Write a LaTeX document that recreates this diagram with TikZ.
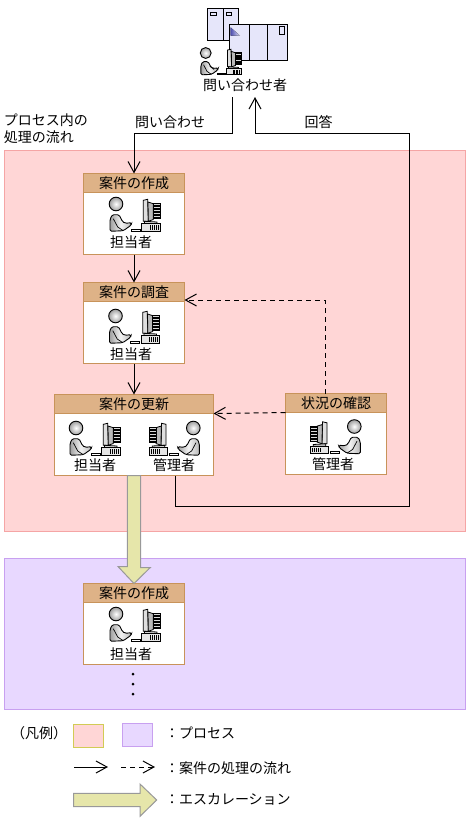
\documentclass[tikz,border=0pt]{standalone}
\usepackage{fontspec}
\usepackage{xcolor}
\usetikzlibrary{arrows.meta, positioning}
\newfontfamily\jpfont{Noto Sans CJK JP}
\definecolor{headfill}{HTML}{DEB287}
\definecolor{headline}{HTML}{C8935A}
\definecolor{pinkfill}{HTML}{FFD6D6}
\definecolor{pinkline}{HTML}{F5A5A5}
\definecolor{violetfill}{HTML}{E8D8FF}
\definecolor{violetline}{HTML}{C8A0F0}
\definecolor{escfill}{HTML}{E6E6AA}
\definecolor{escline}{HTML}{999999}
\definecolor{srvfill}{HTML}{E6E6FA}
\tikzset{
  operator/.pic={
    % monitor
    \draw[line width=.8pt,fill=gray!25] (27.3,-3.7) -- (31.7,-4.7) -- (32.3,17.3) -- (27.3,17.3) -- cycle;
    \draw[line width=.8pt,fill=gray!55] (32,-2) -- (37.3,-.3) -- (37.3,15.5) -- (32.3,17.3) -- cycle;
    \draw[line width=.8pt,fill=gray!30] (37.3,-.3) rectangle (44,14.7);
    \foreach \k in {1,2.5,...,14}
      \draw[line width=.7pt] (37.3,\k) -- (44,\k);
    % base
    \draw[line width=.8pt,fill=gray!35] (28.5,17.3) -- (41,18) -- (41,19.7) -- (28.5,19.7) -- cycle;
    \draw[line width=.8pt,fill=gray!20] (25.7,19.7) rectangle (44,27.3);
    \foreach \k in {34,36,...,42}
      \draw[line width=.7pt] (\k,21.3) -- (\k,25.7);
    % keyboard
    \draw[line width=.8pt,fill=white] (15,25) rectangle (24,27.3);
    % body and head
    \draw[line width=.9pt,rounded corners=1.5pt,left color=gray!75,right color=gray!55,middle color=gray!10]
      (-6,15.3) -- (-3.7,10.7) -- (3,10.7) -- (6.3,17.3) -- (9,19.3) -- (15.7,18.7) -- (15,21.3)
      -- (7.3,26.7) -- (-6,27.3) -- cycle;
    \draw[line width=.7pt] (-2.7,14.7) -- (1.7,23) -- (7.3,26.7);
    \draw[line width=.9pt,inner color=white,outer color=gray!75] (0,0) circle (6.8);
  }
}
\begin{document}
\begin{tikzpicture}[
      x=1pt,y=-1pt,
      every node/.style={font=\jpfont\fontsize{14}{17}\selectfont,inner sep=0pt,outer sep=0pt},
      casehead/.style={rectangle,draw=headline,fill=headfill,line width=1pt,minimum height=19pt},
      casebody/.style={rectangle,draw=headline,fill=white,line width=1pt,minimum height=62pt},
      myregion/.style={rectangle,line width=1pt,minimum width=461pt},
      myarrow/.style={line width=1pt,-{Straight Barb[length=11pt,width=12pt]}},
      mydash/.style={myarrow,dash pattern=on 5pt off 4pt},
      escarrow/.style={draw=escline,fill=escfill,line width=1pt,line join=miter},
      mydot/.style={circle,fill=black,minimum size=3pt}
      ]
    \useasboundingbox (0,0) rectangle (467,819);

    % regions
    \node[myregion,draw=pinkline,fill=pinkfill,minimum height=381pt] (procA) at (234.5,340.5) {};
    \node[myregion,draw=violetline,fill=violetfill,minimum height=151pt] (procB) at (234.5,633.5) {};

    % case boxes: name/centre x/title top/width/title
    \foreach \n/\x/\y/\w/\txt in {
      create/134/173.5/101/案件の作成,
      survey/134/282.5/101/案件の調査,
      update/134/394.5/159/案件の更新,
      check/336/393.5/101/状況の確認,
      again/134/583.5/101/案件の作成
      }{
       \node[casebody,minimum width=\w pt,anchor=north] (\n body) at (\x,\y+19) {};
       \node[casehead,minimum width=\w pt,anchor=north] (\n head) at (\x,\y) {\txt};
    }

    % operators
    \pic at (116,204) {operator};
    \pic at (115.5,316) {operator};
    \pic at (76,428) {operator};
    \pic[xscale=-1] at (193.3,428) {operator};
    \pic[xscale=-1] at (354.3,426.5) {operator};
    \pic at (116,614) {operator};

    \foreach \n/\x/\y/\txt in {
      lblA/131/242.5/担当者,
      lblB/131/354/担当者,
      lblC/95/465.5/担当者,
      lblD/174/465.5/管理者,
      lblE/333/464/管理者,
      lblF/131/654/担当者
      }
       \node (\n) at (\x,\y) {\txt};

    % inquirer and servers
    \draw[line width=1pt,fill=srvfill] (207.3,8.3) rectangle (238.7,40);
    \draw[line width=1pt] (223.3,8.3) -- (223.3,40);
    \draw[line width=1pt] (210.3,12.5) rectangle (216,15);
    \draw[line width=1pt] (226,12.5) rectangle (231.7,15);
    \draw[line width=1pt,fill=srvfill] (229.3,24) rectangle (287.7,60.7);
    \draw[line width=1pt] (249,24) -- (249,60.7) (267.3,24) -- (267.3,60.7);
    \fill[left color=blue!55!black!70,right color=srvfill] (230.5,27.3) -- (230.5,35.7) -- (240,35.7) -- cycle;
    \draw[line width=1pt] (279.3,26.7) rectangle (284.7,34.3);
    \pic[scale=.8] at (205.7,53) {operator};
    \node (inq) at (245,85) {問い合わせ者};

    % flows
    \coordinate (inqout) at (232,97);
    \coordinate (inqin) at (255,97);
    \draw[myarrow] (inqout) -- (232,133) -| (createhead.north);
    \draw[myarrow] (createbody.south) -- (surveyhead.north);
    \draw[myarrow] (surveybody.south) -- (updatehead.north);
    \draw[myarrow] (updatebody.south -| 175,0) -- (175,506) -- (409,506) -- (409,133) -- (255,133) -- (inqin);
    \draw[mydash] (checkhead.north -| 325,0) |- (surveyhead.south east |- 0,300);
    \draw[mydash] (checkhead.south west) -- (updatehead.south east);

    % escalation
    \draw[escarrow] ([xshift=-6.7pt]updatebody.south) -- ++(0,91) -- ++(-9.3,0) -- (againhead.north)
       -- ++(16.3,-16) -- ++(-9.6,0) -- ([xshift=6.7pt]updatebody.south) -- cycle;

    % continuation dots
    \node[mydot] (dotA) at (133,674) {};
    \node[mydot] (dotB) at (133,684) {};
    \node[mydot] (dotC) at (133,694) {};

    % texts
    \node[align=left,anchor=west] (lblproc) at (4,129) {プロセス内の\\処理の流れ};
    \node (lblask) at (170,122) {問い合わせ};
    \node (lblans) at (318.5,122) {回答};

    % legend
    \node (lgd) at (39,733) {（凡例）};
    \node[rectangle,draw=yellow!60!gray,fill=pinkfill,line width=1pt,minimum width=30pt,minimum height=23pt] (lgdA) at (88.5,736) {};
    \node[rectangle,draw=violetline,fill=violetfill,line width=1pt,minimum width=30pt,minimum height=23pt] (lgdB) at (137,735) {};
    \coordinate (lgdS) at (74,767);
    \coordinate (lgdT) at (108,767);
    \coordinate (lgdU) at (121,767);
    \coordinate (lgdV) at (155,767);
    \draw[myarrow] (lgdS) -- (lgdT);
    \draw[mydash] (lgdU) -- (lgdV);
    \coordinate (lgdE) at (73.5,800);
    \coordinate (lgdF) at (156.7,800);
    \draw[escarrow] ([yshift=6.7pt]lgdE) -- ++(66.5,0) -- ++(0,-9.3) -- (lgdF) -- ++(-16.7,16.3)
       -- ++(0,-9.6) -- ([yshift=-6.7pt]lgdE) -- cycle;
    \foreach \n/\y/\txt in {
      lgdG/733/：プロセス,
      lgdH/768/：案件の処理の流れ,
      lgdI/799/：エスカレーション
      }
       \node[anchor=west] (\n) at (165,\y) {\txt};

    \end{tikzpicture}
\end{document}
